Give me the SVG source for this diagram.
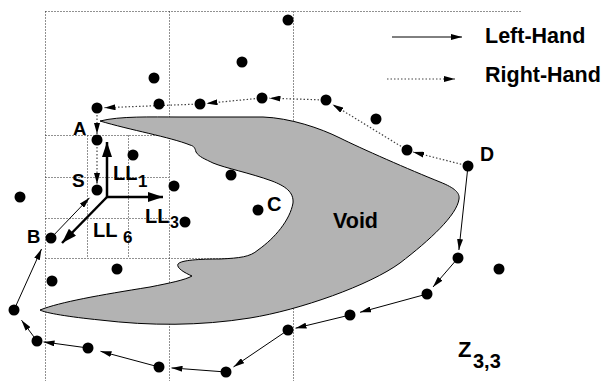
<svg xmlns="http://www.w3.org/2000/svg" width="606" height="381" viewBox="0 0 606 381">
<style>
.grid{stroke:#222;stroke-width:1;stroke-dasharray:1 2;fill:none}
.lh{stroke:#000;stroke-width:1;fill:none;marker-end:url(#ah)}
.rh{stroke:#444;stroke-width:1.2;stroke-dasharray:1.5 2;fill:none;marker-end:url(#ah)}
.ax{stroke:#000;stroke-width:2.5;fill:none;marker-end:url(#axh)}
.dot{fill:#000}
.t{font-family:"Liberation Sans",Arial,sans-serif;font-weight:bold;fill:#000}
</style>
<defs>
<marker id="ah" viewBox="0 0 11 6" refX="11" refY="3" markerWidth="11" markerHeight="6" markerUnits="userSpaceOnUse" orient="auto"><path d="M0,0 L11,3 L0,6 z" fill="#000"/></marker>
<marker id="axh" viewBox="0 0 15 10" refX="15" refY="5" markerWidth="15" markerHeight="10" markerUnits="userSpaceOnUse" orient="auto"><path d="M0,0 L15,5 L0,10 z" fill="#000"/></marker>
</defs>
<rect width="606" height="381" fill="#fff"/>
<g id="grid">
<path class="grid" d="M45.5,11.5 H522 M45.5,11.5 V381 M169.5,11.5 V381 M293.5,11.5 V381 M45.5,135.5 H293 M45.5,177.5 H169 M45.5,218.5 H169 M45.5,258.5 H293 M87.5,135.5 V258 M128.5,135.5 V258"/>
</g>
<g id="void">
<path d="M100,121 C120,116 150,117 180,117 L263,117 C290,118 320,128 340,138 C360,148 410,170 440,182 C455,188 460,193 459,199 C457,215 430,240 400,263 C370,285 300,310 250,318 C200,326 150,326 100,320 C70,317 45,313 40,310 C60,302 100,295 150,287 C170,283 185,280 192,276 C185,273 176,268 178,264 C181,260 200,259 220,259 C240,258 250,257 258,250 C275,238 290,220 293,203 C294,192 285,186 272,181 C250,173 225,168 213,163 C205,159 199,157 196,152 C195,148 194,146 190,145 C170,137 130,130 100,121 Z" fill="#b3b3b3" stroke="#000" stroke-width="1"/>
<text class="t" x="333" y="228" font-size="21.5">Void</text>
</g>
<g id="connectors">
<path class="lh" d="M468,166 L458.9,250"/>
<path class="lh" d="M458,258 L433,287"/>
<path class="lh" d="M427,294 L360,312.3"/>
<path class="lh" d="M350,315 L295.5,328.2"/>
<path class="lh" d="M288,330 L233.5,366.9"/>
<path class="lh" d="M226,372 L171.5,367.9"/>
<path class="lh" d="M159,367 L100.5,351.3"/>
<path class="lh" d="M88,348 L43.5,341.9"/>
<path class="lh" d="M37,341 L21.5,320.2"/>
<path class="lh" d="M14,310 L41.5,249"/>
<path class="lh" d="M51,238 L89.5,197.8"/>
<path class="rh" d="M468,166 L413,152"/>
<path class="rh" d="M407,150 L332.5,104.4"/>
<path class="rh" d="M326,100 L269.5,98.2"/>
<path class="rh" d="M262,98 L206.5,103.4"/>
<path class="rh" d="M200,104 L104.5,107.7"/>
<path class="rh" d="M97,108 L97,134"/>
<path class="rh" d="M97,140 L97,184"/>
<path class="lh" d="M392,37 L462,37"/>
<path class="rh" d="M387,79 L455,79"/>
</g>
<g id="axes">
<path class="ax" d="M107,197 L107,142"/>
<path class="ax" d="M107,197 L163,197"/>
<path class="ax" d="M107,197 L62,243"/>
<text class="t" x="113" y="180" font-size="20">LL</text><text class="t" x="138" y="187" font-size="17">1</text>
<text class="t" x="145" y="223" font-size="20">LL</text><text class="t" x="170" y="228" font-size="16">3</text>
<text class="t" x="93" y="237" font-size="20">LL</text><text class="t" x="123" y="243" font-size="17">6</text>
</g>
<g id="n1"><circle class="dot" cx="288" cy="20" r="5.5"/></g>
<g id="n2"><circle class="dot" cx="242" cy="62" r="5.5"/></g>
<g id="n3"><circle class="dot" cx="154" cy="78" r="5.5"/></g>
<g id="n4"><circle class="dot" cx="159" cy="104" r="5.5"/></g>
<g id="n5"><circle class="dot" cx="97" cy="108" r="5.5"/></g>
<g id="n6"><circle class="dot" cx="200" cy="104" r="5.5"/></g>
<g id="n7"><circle class="dot" cx="262" cy="98" r="5.5"/></g>
<g id="n8"><circle class="dot" cx="326" cy="100" r="5.5"/></g>
<g id="n9"><circle class="dot" cx="376" cy="119" r="5.5"/></g>
<g id="n10"><circle class="dot" cx="407" cy="150" r="5.5"/></g>
<g id="nD"><circle class="dot" cx="468" cy="166" r="5.5"/><text class="t" x="480" y="161" font-size="19.5">D</text></g>
<g id="n12"><circle class="dot" cx="458" cy="258" r="5.5"/></g>
<g id="n13"><circle class="dot" cx="499" cy="269" r="5.5"/></g>
<g id="n14"><circle class="dot" cx="427" cy="294" r="5.5"/></g>
<g id="n15"><circle class="dot" cx="350" cy="315" r="5.5"/></g>
<g id="n16"><circle class="dot" cx="288" cy="330" r="5.5"/></g>
<g id="n17"><circle class="dot" cx="226" cy="372" r="5.5"/></g>
<g id="n18"><circle class="dot" cx="159" cy="367" r="5.5"/></g>
<g id="n19"><circle class="dot" cx="88" cy="348" r="5.5"/></g>
<g id="n20"><circle class="dot" cx="37" cy="341" r="5.5"/></g>
<g id="n21"><circle class="dot" cx="14" cy="310" r="5.5"/></g>
<g id="n22"><circle class="dot" cx="52" cy="281" r="5.5"/></g>
<g id="n23"><circle class="dot" cx="117" cy="269" r="5.5"/></g>
<g id="nB"><circle class="dot" cx="51" cy="238" r="5.5"/><text class="t" x="27" y="243" font-size="18.5">B</text></g>
<g id="n25"><circle class="dot" cx="20" cy="197" r="5.5"/></g>
<g id="nS"><circle class="dot" cx="97" cy="190" r="5.5"/><text class="t" x="72" y="187" font-size="19">S</text></g>
<g id="nA"><circle class="dot" cx="97" cy="140" r="5.5"/><text class="t" x="73" y="135" font-size="18.5">A</text></g>
<g id="n28"><circle class="dot" cx="133" cy="155" r="5.5"/></g>
<g id="n29"><circle class="dot" cx="174" cy="186" r="5.5"/></g>
<g id="n30"><circle class="dot" cx="185" cy="222" r="5.5"/></g>
<g id="n31"><circle class="dot" cx="231" cy="175" r="5.5"/></g>
<g id="nC"><circle class="dot" cx="258" cy="210" r="5.5"/><text class="t" x="267" y="211" font-size="20">C</text></g>
<g id="legend">
<text class="t" x="485" y="43" font-size="21.5">Left-Hand</text>
<text class="t" x="485" y="82" font-size="21.5">Right-Hand</text>
</g>
<g id="zone">
<text class="t" x="458" y="357" font-size="22">Z</text><text class="t" x="473" y="368" font-size="20">3,3</text>
</g>
</svg>
